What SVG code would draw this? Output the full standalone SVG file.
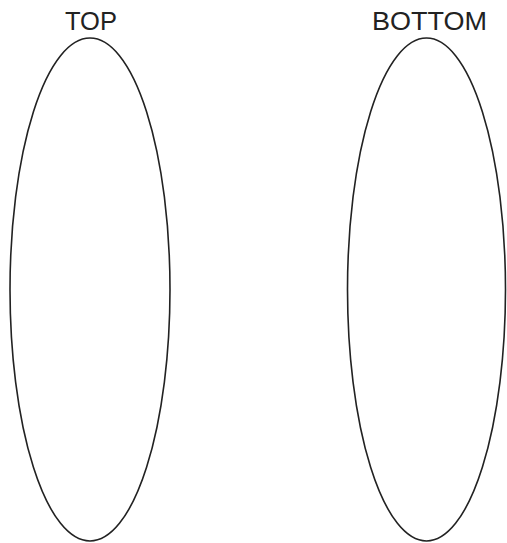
<svg xmlns="http://www.w3.org/2000/svg" width="507" height="543" viewBox="0 0 507 543">
<style>
.shape{fill:none;stroke:#222;stroke-width:1.6}
.lbl{font-family:"Liberation Sans",Arial,sans-serif;font-size:25px;fill:#222;text-anchor:middle}
</style>
<rect width="507" height="543" fill="#fff"/>
<g id="top">
<ellipse class="shape" cx="90" cy="289.5" rx="80" ry="251.5"/>
<text class="lbl" x="91" y="30" textLength="52" lengthAdjust="spacingAndGlyphs">TOP</text>
</g>
<g id="bottom">
<ellipse class="shape" cx="426.5" cy="289.5" rx="79" ry="251.5"/>
<text class="lbl" x="429.5" y="30" textLength="115" lengthAdjust="spacingAndGlyphs">BOTTOM</text>
</g>
<g id="connectors"/>
</svg>
